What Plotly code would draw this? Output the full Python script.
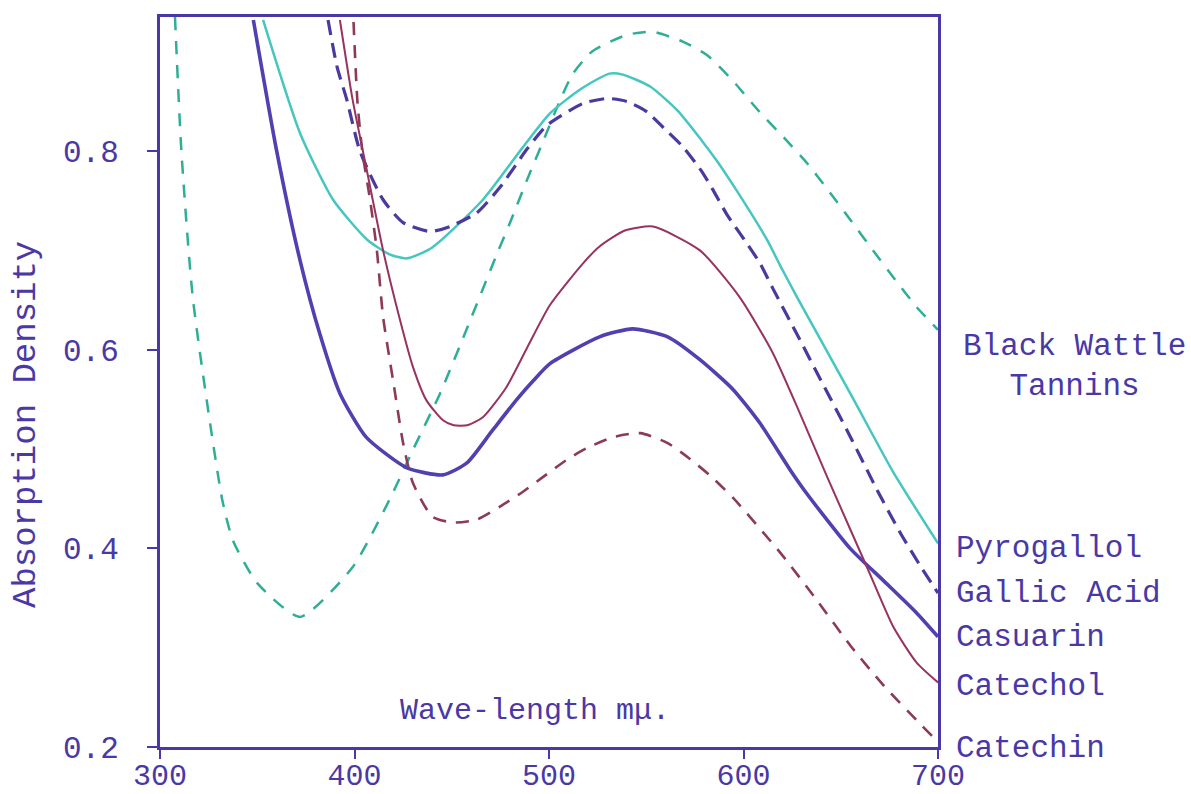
import plotly.graph_objects as go

# ---- data ----
wattle_x = [307.7, 311, 317, 332, 337.5, 350, 372, 399, 418, 430, 444, 454, 474, 480, 488.7, 497, 505, 512, 522, 540, 553.5, 569, 581, 594, 608, 622, 632.6, 643, 654.8, 666.6, 677, 689, 700]
wattle_y = [0.935, 0.80, 0.65, 0.449, 0.408, 0.365, 0.331, 0.381, 0.449, 0.499, 0.556, 0.603, 0.70, 0.728, 0.771, 0.81, 0.848, 0.877, 0.90, 0.917, 0.920, 0.91, 0.897, 0.872, 0.84, 0.811, 0.788, 0.762, 0.731, 0.70, 0.673, 0.643, 0.62]

pyro_x = [353, 372, 389, 406.4, 418, 427, 440, 466, 486.6, 500.5, 516, 531, 538, 552, 566, 578, 586, 594.6, 612, 618.8, 627.5, 635.7, 656.3, 676.9, 700]
pyro_y = [0.932, 0.818, 0.751, 0.711, 0.696, 0.692, 0.703, 0.751, 0.804, 0.838, 0.862, 0.878, 0.877, 0.865, 0.841, 0.812, 0.791, 0.766, 0.711, 0.685, 0.653, 0.624, 0.551, 0.477, 0.405]

gallic_x = [386.4, 391, 396, 402.8, 414.7, 425, 439, 449, 463, 475, 488.7, 499, 517.5, 530, 540, 550, 558.6, 569, 578, 584, 591.5, 600, 608.5, 615, 629, 639.3, 653.2, 663.5, 668.6, 680.5, 690.7, 700]
gallic_y = [0.932, 0.885, 0.852, 0.80, 0.751, 0.728, 0.719, 0.724, 0.738, 0.764, 0.802, 0.826, 0.848, 0.853, 0.850, 0.84, 0.824, 0.804, 0.781, 0.762, 0.736, 0.712, 0.687, 0.662, 0.61, 0.571, 0.519, 0.479, 0.459, 0.416, 0.383, 0.355]

casuarin_x = [348, 360, 372, 382, 392.5, 406, 427, 445.5, 457.8, 471, 483.5, 492, 500.5, 526, 543, 561, 577.6, 594.6, 608.5, 624, 632.6, 654.8, 671.7, 689, 700]
casuarin_y = [0.932, 0.80, 0.69, 0.617, 0.556, 0.512, 0.481, 0.474, 0.486, 0.519, 0.550, 0.569, 0.586, 0.613, 0.621, 0.613, 0.59, 0.56, 0.526, 0.479, 0.455, 0.400, 0.368, 0.335, 0.311]

catechol_x = [392.5, 399, 406, 414.7, 423, 430, 437, 445.5, 451, 458, 466, 478, 489, 500.5, 517.5, 526, 539, 553.5, 577.6, 598, 615, 629, 643, 663.5, 677, 689, 700]
catechol_y = [0.932, 0.852, 0.784, 0.70, 0.633, 0.583, 0.549, 0.529, 0.524, 0.524, 0.532, 0.562, 0.603, 0.645, 0.687, 0.704, 0.72, 0.724, 0.70, 0.653, 0.597, 0.536, 0.472, 0.381, 0.321, 0.285, 0.265]

catechin_x = [399.5, 401.5, 404, 408, 411.5, 414.7, 420, 425, 430, 440, 450.6, 463, 474.8, 486.6, 497, 509, 519.5, 533, 547, 561, 572.5, 583, 595, 620, 638, 655, 672, 689, 700]
catechin_y = [0.93, 0.85, 0.80, 0.751, 0.70, 0.633, 0.567, 0.506, 0.466, 0.432, 0.426, 0.429, 0.442, 0.457, 0.472, 0.489, 0.501, 0.512, 0.516, 0.506, 0.490, 0.473, 0.450, 0.393, 0.347, 0.302, 0.262, 0.227, 0.205]

x_ticks = [300, 400, 500, 600, 700]
y_ticks = [0.2, 0.4, 0.6, 0.8]
y_ticktext = ["0.2", "0.4", "0.6", "0.8"]

series_names = ["Black Wattle<br>Tannins", "Pyrogallol", "Gallic Acid", "Casuarin", "Catechol", "Catechin"]

INK = "#4a38a6"
FONT = "Liberation Mono"

fig = go.Figure()
styles = [
    (wattle_x, wattle_y, "#2fae96", 2.5, "13px,11px"),
    (pyro_x, pyro_y, "#46c6c0", 2.5, "solid"),
    (gallic_x, gallic_y, "#4a3a9e", 3.2, "15px,8px"),
    (casuarin_x, casuarin_y, "#5040b0", 3.6, "solid"),
    (catechol_x, catechol_y, "#973261", 2.0, "solid"),
    (catechin_x, catechin_y, "#8c3a58", 2.6, "13px,10px"),
]
for (xs, ys, col, w, dash), name in zip(styles, series_names):
    fig.add_trace(go.Scatter(x=xs, y=ys, mode="lines", name=name.replace("<br>", " "),
                             line=dict(color=col, width=w, dash=dash, shape="spline", smoothing=0.6),
                             showlegend=False))

L, R, T, B = 160, 938, 17, 747
W, H = 1191, 794

def px_x(p):
    return (p - L) / (R - L)

def px_y(p):
    return (B - p) / (B - T)

fig.update_layout(
    width=W, height=H,
    margin=dict(l=L, r=W - R, t=T, b=H - B, autoexpand=False),
    paper_bgcolor="white", plot_bgcolor="white",
    font=dict(family=FONT, color=INK, size=30),
    xaxis=dict(range=[300, 700], tickvals=x_ticks, ticks="outside", ticklen=9, tickwidth=2,
               tickcolor=INK, showline=True, linecolor=INK, linewidth=3, mirror=True, automargin=False,
               showgrid=False, zeroline=False, ticklabelstandoff=-10,
               tickfont=dict(family=FONT, size=30, color=INK)),
    yaxis=dict(range=[0.2, 0.935], tickvals=y_ticks, ticktext=y_ticktext, ticks="outside", ticklen=10,
               tickwidth=2, tickcolor=INK, showline=True, linecolor=INK, linewidth=3, mirror=True,
               showgrid=False, zeroline=False, ticklabelstandoff=22, automargin=False,
               tickfont=dict(family=FONT, size=31, color=INK)),
)

ann = []
ann.append(dict(x=px_x(26), y=px_y(425), xref="paper", yref="paper", text="Absorption Density",
                textangle=-90, xanchor="center", yanchor="middle",
                showarrow=False, font=dict(family=FONT, size=34, color=INK)))
ann.append(dict(x=px_x(535), y=px_y(711), xref="paper", yref="paper", text="Wave-length mμ.",
                xanchor="center", yanchor="middle",
                showarrow=False, font=dict(family=FONT, size=30, color=INK)))
ann.append(dict(x=px_x(1074), y=px_y(366), xref="paper", yref="paper", text=series_names[0],
                xanchor="center", yanchor="middle",
                showarrow=False, align="center", font=dict(family=FONT, size=31, color=INK)))
label_y = [548, 593, 637, 686, 748]
for name, py in zip(series_names[1:], label_y):
    ann.append(dict(x=px_x(954), y=px_y(py), xref="paper", yref="paper", text=name,
                    xanchor="left", yanchor="middle", showarrow=False,
                    font=dict(family=FONT, size=31, color=INK)))
fig.update_layout(annotations=ann)

fig.write_html("out.html")
